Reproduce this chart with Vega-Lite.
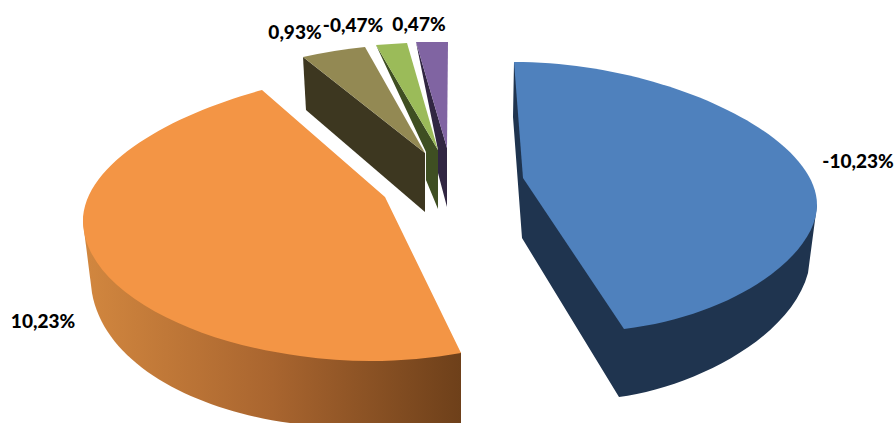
{
  "$schema": "https://vega.github.io/schema/vega-lite/v6.json",
  "description": "Exploded 3D pie of five signed percentages; each slice face is a symbol whose area follows the magnitude of its value.",
  "width": 896,
  "height": 423,
  "padding": 0,
  "autosize": "none",
  "background": "white",
  "config": {"view": {"stroke": null}},
  "data": {"values": [
    {"label": "-10,23%", "value": -10.23},
    {"label": "10,23%", "value": 10.23},
    {"label": "0,93%", "value": 0.93},
    {"label": "-0,47%", "value": -0.47},
    {"label": "0,47%", "value": 0.47}
  ]},
  "encoding": {
    "size": {"field": "value", "type": "quantitative", "legend": null, "scale": {"domain": [-10.23, 0, 10.23], "range": [40000, 0, 40000]}}
  },
  "layer": [
    {
      "transform": [{"filter": "datum.label !== '10,23%'"}],
      "mark": {"type": "point", "filled": true, "opacity": 1, "strokeWidth": 0},
      "encoding": {
        "shape": {"field": "label", "type": "nominal", "legend": null, "scale": {
          "domain": ["-10,23%", "0,93%", "-0,47%", "0,47%"],
          "range": [
            "M0.66,-1.495 L0.65,-0.945 L0.74,0.265 L1.71,1.855 C2.42,1.765 3.42,1.285 3.60,0.615 L3.69,-0.065 L3.0,-0.1 Z",
            "M-4.809,-5.124 L-4.710,-3.367 L-0.763,0.017 L-0.763,-1.940 Z",
            "M-3.360,-7.769 L-0.467,-2.870 L-0.467,-0.117 L-1.027,-1.470 L-1.027,-2.776 Z",
            "M-1.493,-7.909 L-0.047,-2.963 L-0.047,-0.210 L-0.467,-1.797 L-0.467,-2.870 Z"
          ]}},
        "color": {"field": "label", "type": "nominal", "legend": null, "scale": {
          "domain": ["-10,23%", "0,93%", "-0,47%", "0,47%"],
          "range": ["#1F344F", "#3D3720", "#3F4F22", "#312642"]}}
      }
    },
    {
      "transform": [{"filter": "datum.label === '10,23%'"}],
      "mark": {"type": "point", "filled": true, "opacity": 1, "strokeWidth": 0,
        "fill": {"gradient": "linear", "x1": 0, "y1": 0, "x2": 1, "y2": 0, "stops": [
          {"offset": 0, "color": "#D2873F"},
          {"offset": 0.5, "color": "#A9652F"},
          {"offset": 1, "color": "#6E401A"}
        ]}},
      "encoding": {
        "shape": {"field": "label", "type": "nominal", "legend": null, "scale": {
          "domain": ["10,23%"],
          "range": ["M-3.65,0.105 L-3.56,0.815 C-3.43,1.535 -2.53,1.985 -1.58,2.115 L0.13,2.115 L0.13,1.415 L-1.0,0.5 Z"]}}
      }
    },
    {
      "mark": {"type": "point", "filled": true, "opacity": 1, "strokeWidth": 0},
      "encoding": {
        "shape": {"field": "label", "type": "nominal", "legend": null, "scale": {
          "domain": ["-10,23%", "10,23%", "0,93%", "-0,47%", "0,47%"],
          "range": [
            "M0.66,-1.495 C2.16,-1.495 3.69,-0.765 3.69,-0.065 C3.69,0.435 2.87,1.045 1.76,1.175 L0.75,-0.335 Z",
            "M-1.86,-1.215 C-2.68,-0.995 -3.65,-0.515 -3.65,0.105 C-3.63,0.785 -2.58,1.305 -1.48,1.445 C-0.93,1.525 -0.38,1.505 0.13,1.415 L-0.63,-0.145 Z",
            "M-4.809,-5.124 Q-3.748,-5.357 -2.753,-5.456 L-0.763,-1.940 Z",
            "M-3.360,-7.769 L-1.913,-7.863 L-0.467,-2.870 Z",
            "M-1.493,-7.909 L0,-7.909 L-0.047,-2.963 Z"
          ]}},
        "color": {"field": "label", "type": "nominal", "legend": null, "scale": {
          "domain": ["-10,23%", "10,23%", "0,93%", "-0,47%", "0,47%"],
          "range": ["#4F81BD", "#F39545", "#938953", "#9BBB59", "#8064A2"]}}
      }
    },
    {
      "transform": [{"filter": "datum.label === '-10,23%'"}],
      "mark": {"type": "text", "font": "Lato", "fontWeight": 900, "fontSize": 19, "color": "#000000", "dx": 410, "dy": -50},
      "encoding": {"text": {"field": "label"}, "size": {"value": 19}}
    },
    {
      "transform": [{"filter": "datum.label === '10,23%'"}],
      "mark": {"type": "text", "font": "Lato", "fontWeight": 900, "fontSize": 19, "color": "#000000", "dx": -405, "dy": 110},
      "encoding": {"text": {"field": "label"}, "size": {"value": 19}}
    },
    {
      "transform": [{"filter": "datum.label === '0,93%'"}],
      "mark": {"type": "text", "font": "Lato", "fontWeight": 900, "fontSize": 19, "color": "#000000", "dx": -153, "dy": -179},
      "encoding": {"text": {"field": "label"}, "size": {"value": 19}}
    },
    {
      "transform": [{"filter": "datum.label === '-0,47%'"}],
      "mark": {"type": "text", "font": "Lato", "fontWeight": 900, "fontSize": 19, "color": "#000000", "dx": -95, "dy": -186},
      "encoding": {"text": {"field": "label"}, "size": {"value": 19}}
    },
    {
      "transform": [{"filter": "datum.label === '0,47%'"}],
      "mark": {"type": "text", "font": "Lato", "fontWeight": 900, "fontSize": 19, "color": "#000000", "dx": -29, "dy": -187},
      "encoding": {"text": {"field": "label"}, "size": {"value": 19}}
    }
  ],
  "resolve": {"scale": {"shape": "independent", "color": "independent", "size": "independent"}}
}
